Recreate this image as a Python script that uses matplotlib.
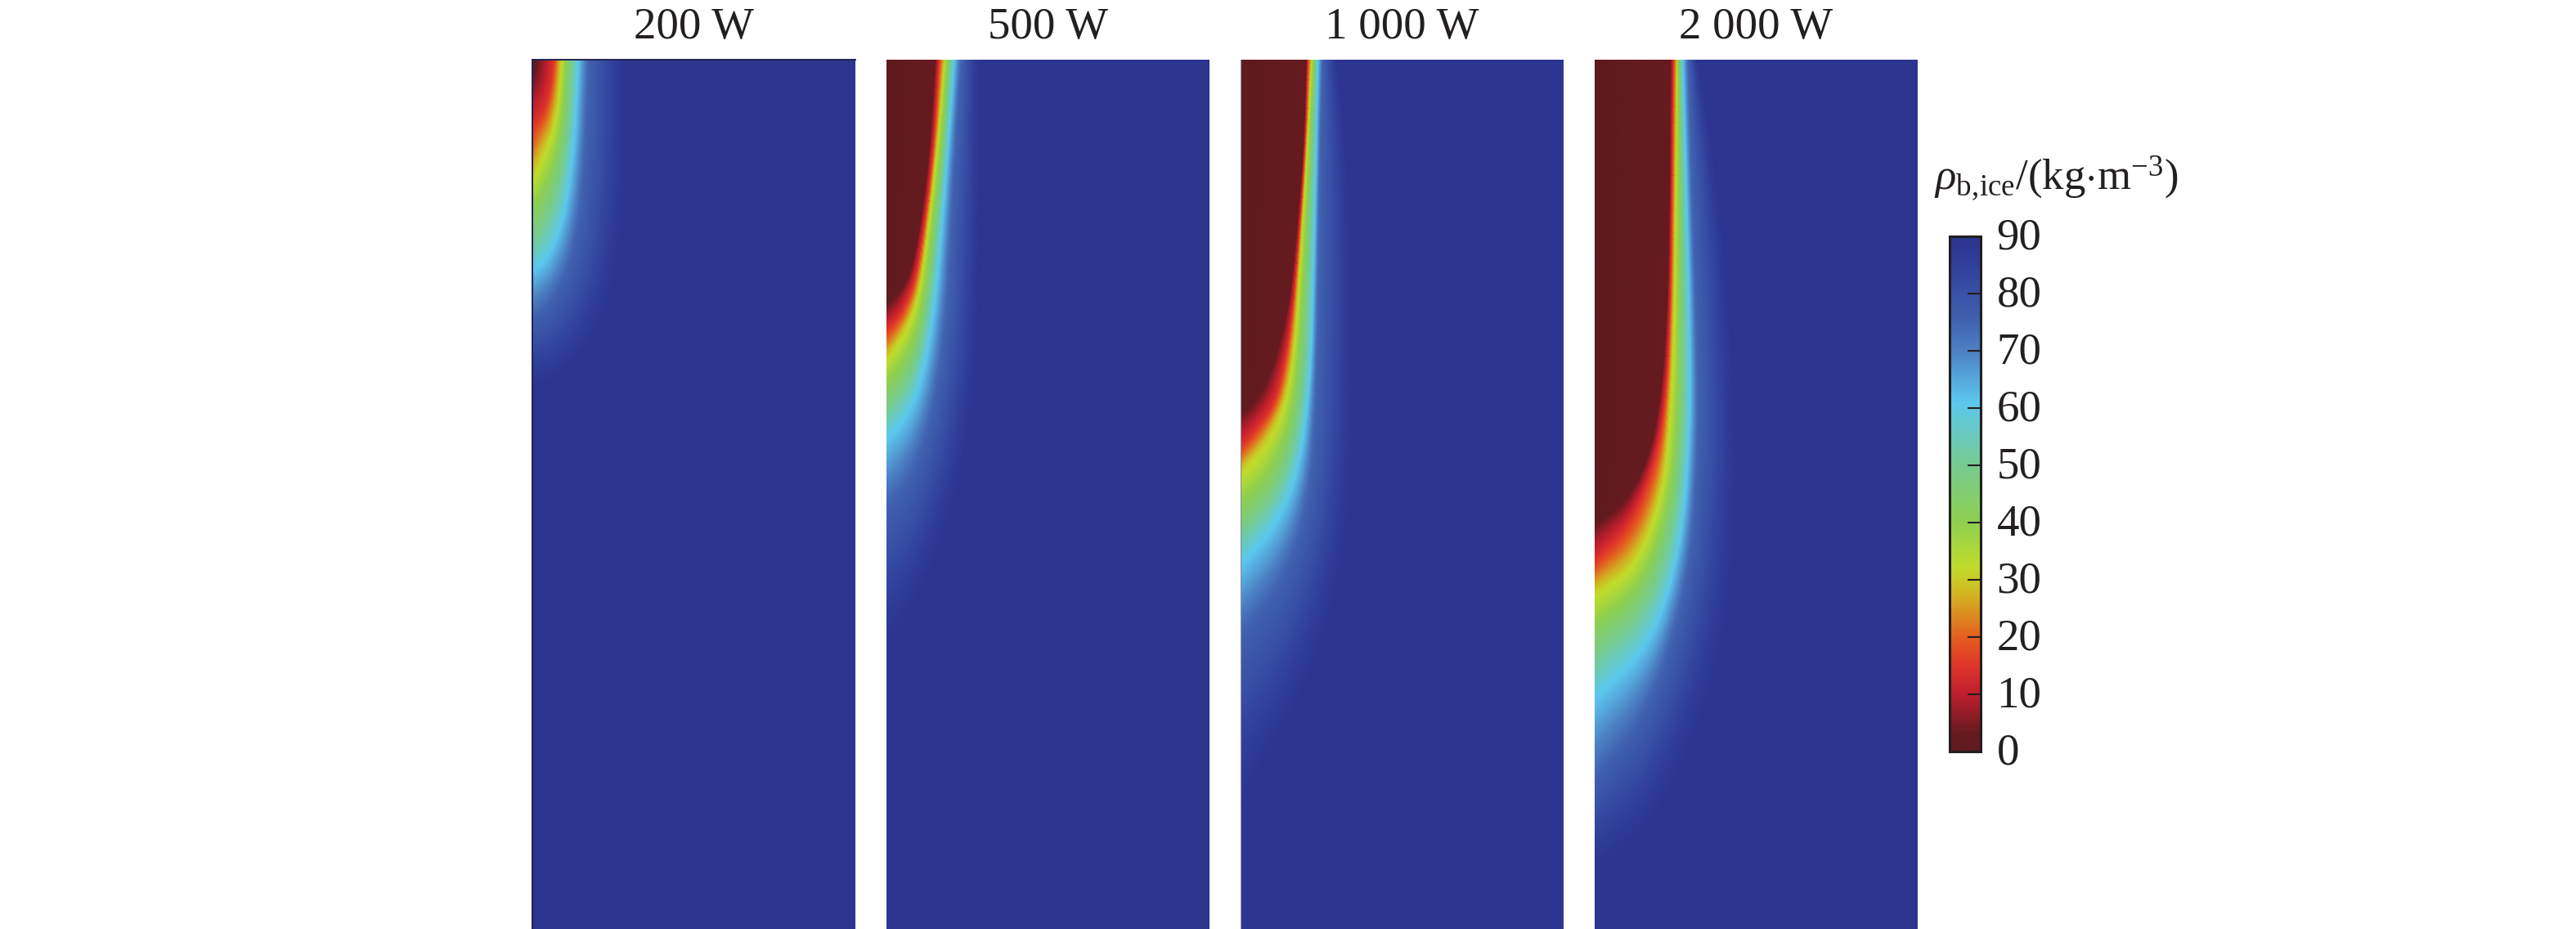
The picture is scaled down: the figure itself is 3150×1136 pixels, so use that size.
import matplotlib
matplotlib.use('Agg')
import matplotlib.pyplot as plt
import numpy as np
from matplotlib.cm import ScalarMappable
from matplotlib.colors import LinearSegmentedColormap, Normalize
from matplotlib.transforms import ScaledTranslation

plt.rcParams['font.family'] = ['Liberation Serif', 'DejaVu Serif']
plt.rcParams['mathtext.fontset'] = 'custom'
plt.rcParams['mathtext.rm'] = 'Liberation Serif'
plt.rcParams['mathtext.it'] = 'Liberation Serif:italic'

titles = ['200 W', '500 W', '1 000 W', '2 000 W']

# density levels of the iso-lines
levels = [3, 15, 30, 45, 60, 75, 90]

# one row per level, from the top edge round to the left wall (distance from wall, depth)
x_200 = [[6, 5, 4, 3, 2, 1, 0],
         [27, 24, 20, 14, 8, 3, 0],
         [35, 33, 30, 24, 16, 6, 0],
         [45, 43, 40, 33, 24, 10, 0],
         [56, 54, 51, 44, 32, 16, 0],
         [69, 67, 64, 58, 46, 24, 0],
         [115, 115, 115, 105, 85, 45, 0]]
d_200 = [[0, 4, 8, 12, 15, 17, 18],
         [0, 25, 45, 62, 72, 78, 80],
         [0, 30, 55, 85, 105, 127, 140],
         [0, 40, 80, 120, 155, 190, 200],
         [0, 50, 93, 160, 210, 243, 255],
         [0, 60, 120, 190, 250, 295, 315],
         [0, 80, 160, 260, 330, 385, 405]]

x_500 = [[60, 54, 44, 31, 20, 8, 0],
         [65, 59, 49, 37, 24, 10, 0],
         [71, 63, 53, 41, 26, 9, 0],
         [77, 70, 61, 50, 34, 14, 0],
         [83, 76, 69, 59, 43, 23, 0],
         [92, 85, 80, 74, 58, 30, 0],
         [115, 115, 115, 110, 86, 43, 0]]
d_500 = [[0, 101, 190, 257, 278, 294, 300],
         [0, 101, 190, 265, 300, 322, 330],
         [0, 101, 190, 280, 324, 351, 362],
         [0, 101, 190, 290, 362, 397, 412],
         [0, 101, 190, 302, 391, 436, 460],
         [0, 101, 190, 310, 430, 510, 545],
         [0, 150, 280, 413, 547, 660, 720]]

x_1000 = [[81, 78, 66, 56, 36, 16, 0],
          [83, 80, 70, 59, 43, 16, 0],
          [87, 82, 73, 66, 54, 29, 0],
          [91, 87, 81, 76, 66, 38, 0],
          [95, 93, 90, 86, 73, 46, 0],
          [101, 98, 96, 94, 86, 56, 0],
          [119, 135, 139, 139, 119, 70, 0]]
d_1000 = [[0, 107, 247, 317, 387, 422, 432],
          [0, 107, 247, 352, 422, 457, 474],
          [0, 107, 247, 352, 422, 471, 502],
          [0, 107, 247, 352, 450, 525, 560],
          [0, 107, 247, 387, 492, 562, 614],
          [0, 107, 247, 387, 527, 631, 701],
          [0, 150, 300, 527, 666, 800, 911]]

x_2000 = [[93, 92, 89, 80, 65, 37, 0],
          [97, 95, 93, 87, 75, 45, 0],
          [101, 99, 97, 93, 83, 50, 0],
          [104, 106, 106, 105, 94, 60, 0],
          [108, 113, 116, 117, 105, 70, 0],
          [115, 120, 125, 128, 117, 70, 0],
          [127, 157, 177, 170, 137, 70, 0]]
d_2000 = [[0, 177, 317, 422, 492, 541, 569],
          [0, 177, 317, 422, 492, 570, 614],
          [0, 177, 317, 422, 527, 615, 649],
          [0, 177, 317, 450, 560, 660, 710],
          [0, 177, 317, 457, 597, 710, 775],
          [0, 177, 317, 457, 631, 790, 876],
          [0, 177, 457, 666, 806, 946, 995]]

panel_x = [x_200, x_500, x_1000, x_2000]
panel_d = [d_200, d_500, d_1000, d_2000]

cbar_ticks = [0, 10, 20, 30, 40, 50, 60, 70, 80, 90]

# colour bar stops (value, colour)
stop_vals = [0, 3, 10, 15, 20, 27, 32, 40, 50, 61, 70, 76, 82, 86, 90]
stop_cols = ['#5f1a1e', '#651a1f', '#bf1e2d', '#e0352a', '#e4601f', '#d4b022', '#c1dc2b',
             '#8fd050', '#76cb90', '#5cc8ee', '#4c80c4', '#3f5fae', '#354aa2', '#2f3c98', '#2c3590']

W, H = 3150, 1136
panel_left = [651, 1084, 1517, 1950]
panel_w = 395
panel_top = 73


def box(l, t, w, h):
    return [l / W, 1 - (t + h) / H, w / W, h / H]


def chaikin(row, n=3):
    # round off the hand read polyline, ends stay where they are
    row = np.asarray(row, dtype=float)
    for _ in range(n):
        q = 0.75 * row[:-1] + 0.25 * row[1:]
        r = 0.25 * row[:-1] + 0.75 * row[1:]
        mid = np.column_stack([q, r]).ravel()
        row = np.concatenate([[row[0]], mid, [row[-1]]])
    return row


cmap = LinearSegmentedColormap.from_list('rho', [(v / 90, c) for v, c in zip(stop_vals, stop_cols)], N=512)
norm = Normalize(0, 90)

fig = plt.figure(figsize=(W / 100, H / 100), dpi=100)

for i in range(4):
    ax = fig.add_axes(box(panel_left[i], panel_top, panel_w, H - panel_top))
    ax.set_facecolor(cmap(1.0))
    xs = np.array([chaikin(r) for r in panel_x[i]])
    ds = np.array([chaikin(r) for r in panel_d[i]])
    # wall row at level 0, then finer steps between iso-lines so gouraud follows the colormap
    xs = np.vstack([np.zeros_like(xs[0]), xs])
    ds = np.vstack([ds[0], ds])
    lv = np.array([0] + levels, dtype=float)
    fine = np.linspace(0, 90, 181)
    X = np.array([np.interp(fine, lv, xs[:, j]) for j in range(xs.shape[1])])
    Y = np.array([np.interp(fine, lv, ds[:, j]) for j in range(xs.shape[1])])
    C = np.tile(fine, (xs.shape[1], 1))
    ax.pcolormesh(X, Y, C, shading='gouraud', cmap=cmap, norm=norm)
    ax.set_xlim(0, panel_w)
    ax.set_ylim(H - panel_top, 0)
    ax.set_xticks([])
    ax.set_yticks([])
    for s in ax.spines.values():
        s.set_visible(False)
    if i == 0:
        for s in ['left', 'top']:
            ax.spines[s].set_visible(True)
            ax.spines[s].set_color('#1f2350')
            ax.spines[s].set_linewidth(1.4)
    if i == 2:
        ax.spines['left'].set_visible(True)
        ax.spines['left'].set_color('#8d8da5')
        ax.spines['left'].set_linewidth(0.8)
    fig.text((panel_left[i] + panel_w / 2) / W, 1 - 47 / H, titles[i], ha='center', va='baseline',
             fontsize=39.5, color='#231f20')

cax = fig.add_axes(box(2384, 289, 38, 630))
cb = fig.colorbar(ScalarMappable(norm=norm, cmap=cmap), cax=cax, ticks=cbar_ticks)
cb.outline.set_edgecolor('#231f20')
cb.outline.set_linewidth(2.2)
cax.tick_params(direction='in', length=11.5, width=1.5, color='#231f20', pad=14, labelsize=39.5,
                labelcolor='#231f20')
for lab in cax.get_yticklabels():
    lab.set_transform(lab.get_transform() + ScaledTranslation(0, 4 / 100, fig.dpi_scale_trans))

fig.text(2365 / W, 1 - 231 / H, r'$\rho_{\mathrm{b,\!ice}}$/(kg$\cdot$m$^{-3}$)', ha='left', va='baseline',
         fontsize=38, color='#231f20')

fig.savefig('out.png', dpi=100)
